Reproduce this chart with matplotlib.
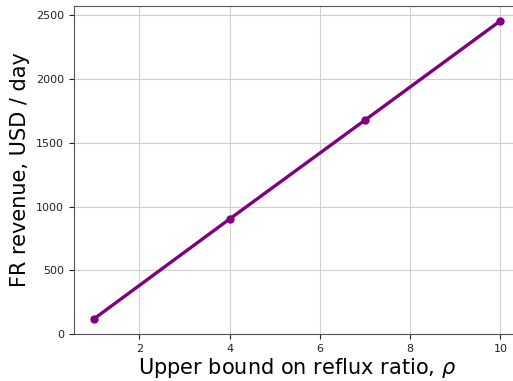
import matplotlib
matplotlib.use("Agg")
import matplotlib.pyplot as plt

rho = [1, 4, 7, 10]
revenue = [120, 902, 1678, 2457]

fig = plt.figure(figsize=(5.13, 3.81), dpi=100)
ax = fig.add_axes([0.144, 0.1234, 0.871, 0.861])
ax.plot(rho, revenue, color='#800080', linewidth=2.4, marker='o', markersize=5)
ax.set_ylim(bottom=0)
ax.set_xlim(0.55, 10.45)
ax.grid(True, color='#d0d0d0', linewidth=0.8)
ax.set_axisbelow(True)
for s in ax.spines.values():
    s.set_color('#555555')
ax.tick_params(labelsize=8, colors='#222222')
ax.set_xlabel('Upper bound on reflux ratio, $\\rho$', fontsize=15, labelpad=1.5)
ax.set_ylabel('FR revenue, USD / day', fontsize=15)
fig.savefig('out.png', dpi=100)
